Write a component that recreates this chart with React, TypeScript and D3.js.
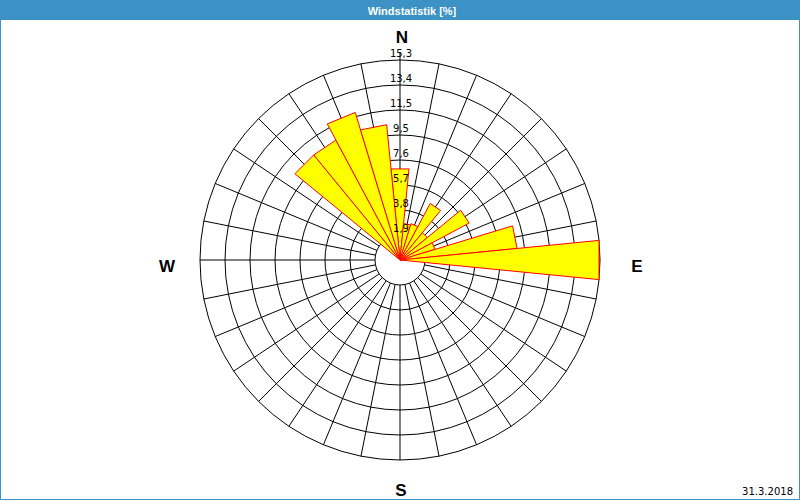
import React from "react";
import * as d3 from "d3";

// Wind direction sectors (compass, clockwise from N), 32 sectors
const directions = [
  "N", "NzO", "NNO", "NOzN", "NO", "NOzO", "ONO", "OzN",
  "O", "OzS", "OSO", "SOzO", "SO", "SOzS", "SSO", "SzO",
  "S", "SzW", "SSW", "SWzS", "SW", "SWzW", "WSW", "WzS",
  "W", "WzN", "WNW", "NWzW", "NW", "NWzN", "NNW", "NzW",
];
// Frequency in % per sector
const frequencies = [
  7.0, 2.8, 2.9, 4.9, 2.7, 6.0, 2.8, 9.0,
  15.3, 0, 0, 0, 0, 0, 0, 0,
  0, 0, 0, 0, 0, 0, 0, 0,
  0, 0, 0, 0, 10.4, 10.4, 11.8, 10.4,
];
const ringLabels = ["1,9", "3,8", "5,7", "7,6", "9,5", "11,5", "13,4", "15,3"];
const maxValue = 15.3;
const compassLabels = ["N", "E", "S", "W"];
const title = "Windstatistik [%]";
const dateLabel = "31.3.2018";

export default function App() {
  const W = 800, H = 500;
  const cx = 400, cy = 260, R = 200;
  const rScale = d3.scaleLinear().domain([0, maxValue]).range([0, R]);
  const n = directions.length;
  const aScale = d3.scaleLinear().domain([0, n]).range([0, 2 * Math.PI]);
  const half = Math.PI / n;
  const ringValues = ringLabels.map((_, i) => ((i + 1) * maxValue) / ringLabels.length);
  const inner = rScale(ringValues[0]);

  const bars = frequencies.map((v, i) => {
    const a = aScale(i);
    const r = rScale(v);
    const p1 = d3.pointRadial(a - half, r);
    const p2 = d3.pointRadial(a + half, r);
    return { d: `M0,0L${p1[0]},${p1[1]}L${p2[0]},${p2[1]}Z`, v };
  });

  const compassPos = [
    { x: 402, y: 43 },
    { x: 637, y: 272 },
    { x: 401, y: 496 },
    { x: 167, y: 272 },
  ];

  return (
    <div style={{ position: "fixed", left: 0, top: 0, width: W, height: H }}>
      <svg width={W} height={H} style={{ display: "block" }}>
        <rect x={0} y={0} width={W} height={H} fill="#ffffff" />
        <rect x={0.5} y={0.5} width={W - 1} height={H - 1} fill="none" stroke="#3c92c4" />
        <rect x={0} y={0} width={W} height={20} fill="#3c92c4" />
        <text x={412} y={15} textAnchor="middle" fill="#ffffff" fontFamily="Liberation Sans, Arial, sans-serif" fontWeight="bold" fontSize={11}>
          {title}
        </text>
        <g transform={`translate(${cx},${cy})`}>
          {ringValues.map((v, i) => (
            <circle key={i} r={rScale(v)} fill={i === 0 ? "#ffffff" : "none"} stroke="#000" strokeWidth={1} />
          ))}
          {directions.map((_, i) => {
            const a = aScale(i);
            const p1 = d3.pointRadial(a, inner);
            const p2 = d3.pointRadial(a, i === 0 ? R + 8 : R);
            return (
              <line key={i} x1={p1[0]} y1={p1[1]} x2={p2[0]} y2={p2[1]} stroke="#000" strokeWidth={1} />
            );
          })}
          {bars.filter(b => b.v > 0).map((b, i) => (
            <path key={i} d={b.d} fill="#ffff00" stroke="#ff0000" strokeWidth={1} strokeLinejoin="miter" />
          ))}
          {ringValues.map((v, i) => (
            <text key={i} x={1} y={-rScale(v) - 3} textAnchor="middle" fill="#000" fontFamily="DejaVu Sans, sans-serif" fontSize={10}>
              {ringLabels[i]}
            </text>
          ))}
        </g>
        {compassLabels.map((l, i) => (
          <text key={l} x={compassPos[i].x} y={compassPos[i].y} textAnchor="middle" fill="#000" fontFamily="Liberation Sans, Arial, sans-serif" fontWeight="bold" fontSize={17}>
            {l}
          </text>
        ))}
        <text x={793} y={495} textAnchor="end" fill="#000" fontFamily="DejaVu Sans, sans-serif" fontSize={10}>
          {dateLabel}
        </text>
      </svg>
    </div>
  );
}
